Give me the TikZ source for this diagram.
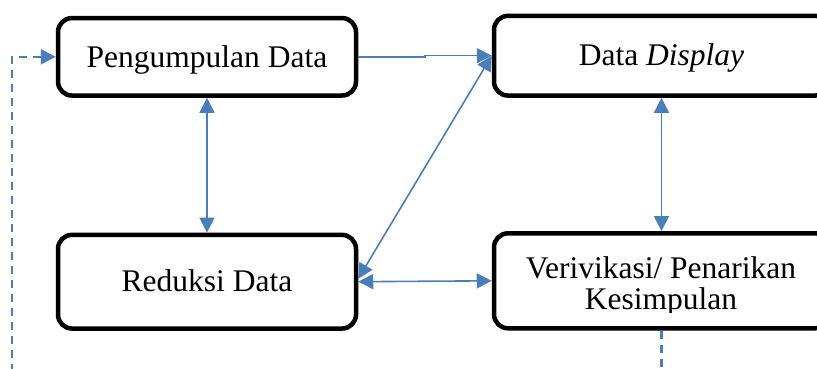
\documentclass[tikz,border=0pt]{standalone}
\usepackage{fontspec}
\setmainfont{Liberation Serif}
\usetikzlibrary{arrows.meta,calc}
\definecolor{arrowblue}{RGB}{74,126,187}
\tikzset{
  box/.style={draw=black, line width=4.5pt, rounded corners=14pt, inner sep=0pt,
    text height=20.5pt, text depth=0pt, font=\fontsize{31.5}{32}\selectfont},
  lbl/.style={inner sep=0pt, anchor=base, font=\fontsize{31.5}{32}\selectfont},
  conn/.style={draw=arrowblue, line width=1.6pt, -{Triangle[length=15pt,width=15pt]}},
  biconn/.style={draw=arrowblue, line width=1.6pt, {Triangle[length=15pt,width=15pt]}-{Triangle[length=15pt,width=15pt]}},
  dashconn/.style={draw=arrowblue, line width=2.3pt, dash pattern=on 8pt off 6pt},
}
\begin{document}
\begin{tikzpicture}[x=1pt,y=-1pt]
\clip (0,0) rectangle (817,369);
\node[box, minimum width=298pt, minimum height=77.5pt] (pd) at (207,56.8) {Pengumpulan Data};
\node[box, minimum width=335pt, minimum height=79.7pt] (dd) at (661.5,55.7) {Data \textit{Display}};
\node[box, minimum width=298pt, minimum height=93.7pt] (red) at (207,281.7) {Reduksi Data};
\node[box, minimum width=335pt, minimum height=95pt] (ver) at (661.5,280.8) {};
\begin{scope}
  \clip (494,236) rectangle (829,312);
  \node[lbl] (ver1) at (661,278.3) {Verivikasi/ Penarikan};
  \node[lbl] (ver2) at (661,309.5) {Kesimpulan};
\end{scope}
\draw[conn] (pd.east) -- ++(67,0) |- (dd.west);
\draw[biconn] ($(red.east)+(0,-3)$) -- (dd.west);
\draw[biconn] (red.east) -- (ver.west);
\draw[biconn] (pd.south) -- (red.north);
\draw[biconn] (dd.south) -- (ver.north);
\coordinate (lb) at (11.7,372);
\coordinate (rb) at (661.5,372);
\draw[dashconn, -{Triangle[length=15pt,width=15pt]}] (lb) |- (pd.west);
\draw[dashconn] (ver.south) -- (rb);
\end{tikzpicture}
\end{document}
